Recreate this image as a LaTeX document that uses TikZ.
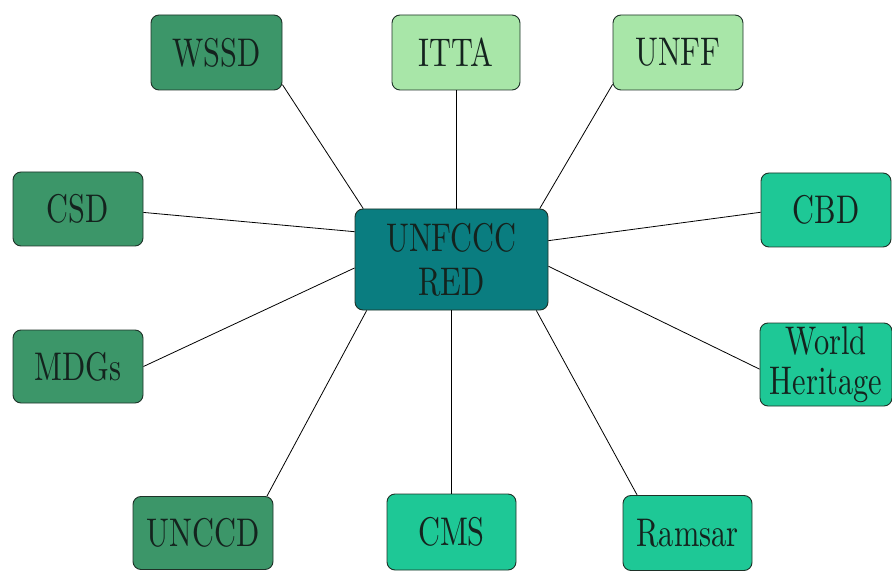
\documentclass[tikz,border=0pt]{standalone}
\usepackage{fontspec}
\newfontfamily\treatyfont{lmroman10-regular.otf}[FakeStretch=0.76]
\usepackage{xcolor}
\usepackage{tikz}
\definecolor{deepgreen}{RGB}{60,150,105}
\definecolor{palegreen}{RGB}{168,230,168}
\definecolor{seagreen}{RGB}{30,200,150}
\definecolor{hubteal}{RGB}{10,125,128}
\definecolor{edgedark}{RGB}{30,50,40}
\definecolor{textdark}{RGB}{20,35,30}

\begin{document}
\begin{tikzpicture}[x=1pt, y=-1pt,
    treaty/.style={draw=edgedark, line width=0.9pt, rounded corners=8pt, minimum width=130pt, minimum height=75pt, inner sep=0pt, align=center, text=textdark, font=\treatyfont\fontsize{40}{40}\selectfont},
    link/.style={draw=black, line width=0.8pt}]
    % Canvas
    \useasboundingbox (0,0) rectangle (892,572);

    % Hub
    \node[treaty, fill=hubteal, minimum width=193pt, minimum height=101pt] (red) at (451.5,259.5) {UNFCCC\\[4pt]RED};

    % Top row
    \node[treaty, fill=deepgreen, minimum width=131pt] (wssd) at (216.5,52.5) {WSSD};
    \node[treaty, fill=palegreen, minimum width=128pt] (itta) at (456,52.5) {ITTA};
    \node[treaty, fill=palegreen] (unff) at (678,52.5) {UNFF};

    % Left and right sides
    \node[treaty, fill=deepgreen, minimum height=74pt] (csd) at (78,209) {CSD};
    \node[treaty, fill=deepgreen, minimum height=73pt] (mdgs) at (78,366.5) {MDGs};
    \node[treaty, fill=seagreen, minimum height=74pt] (cbd) at (826,210) {CBD};
    \node[treaty, fill=seagreen, minimum width=132pt, minimum height=83pt] (wh) at (826,364.5) {World\\Heritage};

    % Bottom row
    \node[treaty, fill=deepgreen, minimum width=140pt, minimum height=73pt] (unccd) at (203,533) {UNCCD};
    \node[treaty, fill=seagreen, minimum width=129pt, minimum height=76pt] (cms) at (451.5,532) {CMS};
    \node[treaty, fill=seagreen, minimum width=129pt] (ramsar) at (687.5,533) {Ramsar};

    % Links to the hub
    \draw[link] (wssd.334) -- (red.150);
    \draw[link] (itta.south) -- (itta.south |- red.north);
    \draw[link] (unff.206) -- (red.30);
    \draw[link] (csd.357) -- (red.164);
    \draw[link] (mdgs.east) -- (red.185);
    \draw[link] (cbd.182) -- (red.11);
    \draw[link] (wh.184) -- (red.356);
    \draw[link] (unccd.30) -- (red.211);
    \draw[link] (cms.north) -- (red.south);
    \draw[link] (ramsar.143) -- (red.329);

\end{tikzpicture}
\end{document}
